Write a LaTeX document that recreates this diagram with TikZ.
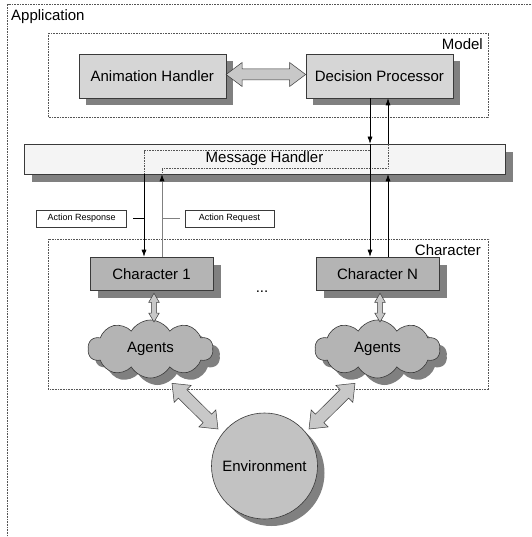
\documentclass[tikz,border=0pt]{standalone}
\usepackage{fontspec}
\setmainfont{Liberation Sans}
\usetikzlibrary{shapes.symbols,shadows,calc,arrows.meta}
\definecolor{boxlight}{HTML}{D6D6D6}
\definecolor{boxmid}{HTML}{B4B4B4}
\definecolor{envfill}{HTML}{C2C2C2}
\definecolor{shadowc}{HTML}{808080}
\definecolor{barfill}{HTML}{F4F4F4}
\definecolor{fatfill}{HTML}{C8C8C8}
\definecolor{edgec}{HTML}{3A3A3A}
\definecolor{dotc}{HTML}{555555}
\tikzset{
  big/.style={font=\fontsize{15}{18}\selectfont},
  small/.style={font=\fontsize{9}{11}\selectfont},
  shad/.style={drop shadow={shadow xshift=#1, shadow yshift=-#1, fill=shadowc, opacity=1}},
  blockbox/.style={draw=edgec, line width=0.6pt, rectangle, inner sep=0pt, big},
  frame/.style={draw=dotc, densely dotted, line width=0.6pt},
  pathdot/.style={draw=dotc, densely dotted, line width=0.6pt},
  tarrow/.style={draw=black, line width=0.6pt, -{Latex[length=7pt,width=5pt,color=black]}},
  lbl/.style={draw=edgec, line width=0.6pt, rectangle, inner sep=0pt, small, minimum height=17pt},
  fatstyle/.style={fill=fatfill, draw=edgec, line width=0.5pt, line join=miter},
  agcloud/.style={cloud, cloud puffs=10, cloud puff arc=120, cloud ignores aspect, draw=edgec, line width=0.6pt, fill=boxmid, shad=7pt, minimum width=125pt, minimum height=58pt, inner sep=0pt, big},
}
\newcommand\fatarr[5]{%
  \coordinate (fa1) at ($(#1)!#5!(#2)$);
  \coordinate (fa2) at ($(#2)!#5!(#1)$);
  \filldraw[fatstyle] (#1) -- ($(fa1)!#4!90:(#2)$) -- ($(fa1)!#3!90:(#2)$)
    -- ($(fa2)!#3!-90:(#1)$) -- ($(fa2)!#4!-90:(#1)$) -- (#2)
    -- ($(fa2)!#4!90:(#1)$) -- ($(fa2)!#3!90:(#1)$)
    -- ($(fa1)!#3!-90:(#2)$) -- ($(fa1)!#4!-90:(#2)$) -- cycle;}
\begin{document}
\begin{tikzpicture}[x=1pt,y=-1pt]
\useasboundingbox (0,0) rectangle (531,537);
\fill[white] (0,0) rectangle (531,537);
% application frame
\draw[frame] (531,4) -- (7.5,4) -- (7.5,537);
\node[big, anchor=west, inner sep=0pt] (app) at (11,17) {Application};
% model frame
\draw[frame] (48.4,33) rectangle (488.7,117.5);
\node[big, anchor=east, inner sep=0pt] (model) at (483,44.5) {Model};
% character frame
\draw[frame] (48.4,239) rectangle (488.7,389.5);
\node[big, anchor=east, inner sep=0pt] (charlbl) at (481,250) {Character};

% model boxes
\node[blockbox, shad=7.5pt, fill=boxlight, minimum width=147pt, minimum height=44pt] (ah) at (152.3,76) {Animation Handler};
\node[blockbox, shad=7.5pt, fill=boxlight, minimum width=147pt, minimum height=44pt] (dp) at (379.4,76) {Decision Processor};
\coordinate (ahe) at ($(ah.east)+(0,-1.5)$);
\coordinate (dpw) at ($(dp.west)+(0,-1.5)$);
\fatarr{ahe}{dpw}{5.5pt}{12pt}{16pt}

% message handler
\node[blockbox, shad=8pt, fill=barfill, minimum width=481pt, minimum height=30pt] (mh) at (264.5,159) {Message Handler};

% characters
\node[blockbox, shad=7.5pt, fill=boxmid, minimum width=123pt, minimum height=33.5pt] (c1) at (151.5,273.75) {Character 1};
\node[blockbox, shad=7.5pt, fill=boxmid, minimum width=123pt, minimum height=33.5pt] (cn) at (377.5,273.75) {Character N};
\node[big, anchor=base, inner sep=0pt] (dots) at (262,292) {...};

% clouds
\node[agcloud] (ag1) at (150.5,349) {Agents};
\node[agcloud] (agn) at (377.5,349) {Agents};

% environment
\node[circle, draw=edgec, line width=0.6pt, fill=envfill, shad=7pt, minimum size=106pt, inner sep=0pt, big] (env) at (264.5,466) {Environment};

% vertical fat arrows
\coordinate (v1a) at ($(c1.south)+(2.5,2.5)$);
\coordinate (v1b) at (v1a |- 0,322);
\fatarr{v1a}{v1b}{2.7pt}{5.3pt}{9pt}
\coordinate (vna) at ($(cn.south)+(2.5,2.5)$);
\coordinate (vnb) at (vna |- 0,322);
\fatarr{vna}{vnb}{2.7pt}{5.3pt}{9pt}

% diagonal fat arrows
\coordinate (d1a) at ($(ag1.south)+(21.5,5)$);
\coordinate (d1b) at ($(env.center)+(-46.5,-37)$);
\fatarr{d1a}{d1b}{6pt}{12pt}{15pt}
\coordinate (dna) at ($(agn.south)+(-22.5,5)$);
\coordinate (dnb) at ($(env.center)+(44.5,-37)$);
\fatarr{dna}{dnb}{6pt}{12pt}{15pt}

% message arrows
\coordinate (xa) at (144,0);
\coordinate (xb) at (162,0);
\coordinate (xc) at (370,0);
\coordinate (xd) at (388,0);
\draw[pathdot] ($(mh.north -| xc)+(0,7)$) -| (mh.south -| xa);
\draw[pathdot] (mh.south -| xb) |- ($(mh.south -| xd)+(0,-6)$) -- (mh.north -| xd);
\draw[tarrow] (dp.south -| xc) -- (mh.north -| xc);
\draw[tarrow] (mh.north -| xc) -- (cn.north -| xc);
\draw[tarrow] (cn.north -| xd) -- (mh.south -| xd);
\draw[tarrow] (mh.north -| xd) -- (dp.south -| xd);
\draw[tarrow] (mh.south -| xa) -- (c1.north -| xa);
\draw[tarrow, draw=gray] (c1.north -| xb) -- (mh.south -| xb);

% labels
\node[lbl, minimum width=90pt] (resp) at (81.7,218.5) {Action Response};
\node[lbl, minimum width=89pt] (req) at (229.5,218.5) {Action Request};
\draw[line width=0.6pt, black] ($(resp.east)+(6,0)$) -- (resp.east -| xa);
\draw[line width=0.6pt, gray] (req.west -| xb) -- ($(req.west)+(-5,0)$);
\end{tikzpicture}
\end{document}
